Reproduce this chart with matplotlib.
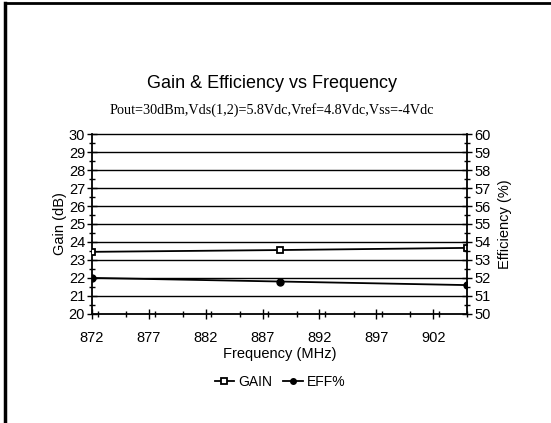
import numpy as np
import matplotlib
matplotlib.use("Agg")
import matplotlib.pyplot as plt
from matplotlib.lines import Line2D
from matplotlib.ticker import MultipleLocator

freq = [872, 888.5, 905]
gain = [23.45, 23.55, 23.67]
eff = [52.0, 51.8, 51.6]
xticks = [872, 877, 882, 887, 892, 897, 902]

plt.rcParams['font.family'] = ['Liberation Sans', 'DejaVu Sans']

fig = plt.figure(figsize=(5.51, 4.23), dpi=100)
ax = fig.add_axes([0.167, 0.258, 0.681, 0.425])

for y in range(21, 31):
    ax.axhline(y, color='black', lw=1.0, zorder=1, clip_on=False)

ax.plot(freq, gain, color='black', lw=1.3, marker='s', ms=5, mfc='white', mec='black', mew=1.3, label='GAIN', zorder=3)
ax2 = ax.twinx()
ax2.plot(freq, eff, color='black', lw=1.3, marker='o', ms=5, mfc='black', mec='black', label='EFF%', zorder=3)

ax.set_xlim(872, 905)
ax.set_ylim(20, 30)
ax2.set_ylim(50, 60)
ax.set_xticks(xticks)
ax.xaxis.set_minor_locator(MultipleLocator(2.5))
ax.yaxis.set_major_locator(MultipleLocator(1))
ax.yaxis.set_minor_locator(MultipleLocator(0.5))
ax2.yaxis.set_major_locator(MultipleLocator(1))
ax2.yaxis.set_minor_locator(MultipleLocator(0.5))

for a in (ax, ax2):
    a.tick_params(which='major', direction='inout', length=7, width=1, labelsize=10.5, colors='black', pad=1.5)
    a.tick_params(which='minor', direction='inout', length=4, width=1)
    for s in a.spines.values():
        s.set_visible(False)
ax.spines['left'].set_visible(True)
ax.spines['bottom'].set_visible(True)
ax2.spines['right'].set_visible(True)
ax.spines['left'].set_linewidth(1.3)
ax.spines['bottom'].set_linewidth(1.3)
ax2.spines['right'].set_linewidth(1.3)
ax.tick_params(axis='x', pad=9)

ax.set_xlabel('Frequency (MHz)', fontsize=10.5, labelpad=1)
ax.set_ylabel('Gain (dB)', fontsize=10.5, labelpad=1)
ax2.set_ylabel('Efficiency (%)', fontsize=10.5, labelpad=5)

fig.text(0.494, 1 - 83 / 423, 'Gain & Efficiency vs Frequency', ha='center', va='center', fontsize=13)
fig.text(0.494, 1 - 110 / 423, 'Pout=30dBm,Vds(1,2)=5.8Vdc,Vref=4.8Vdc,Vss=-4Vdc',
         ha='center', va='center', fontsize=10.2, family=['Liberation Serif'])

h1, l1 = ax.get_legend_handles_labels()
h2, l2 = ax2.get_legend_handles_labels()
fig.legend(h1 + h2, l1 + l2, loc='center', bbox_to_anchor=(280 / 551, 1 - 382 / 423),
           ncol=2, frameon=False, fontsize=10, handlelength=1.4, handletextpad=0.3,
           columnspacing=0.8, markerscale=0.8)

# scanned page border
fig.add_artist(Line2D([5 / 551, 5 / 551], [0, 1 - 3 / 423], color='black', lw=2.5))
fig.add_artist(Line2D([5 / 551, 1], [1 - 3 / 423, 1 - 3 / 423], color='black', lw=2))

fig.savefig('out.png', dpi=100)
